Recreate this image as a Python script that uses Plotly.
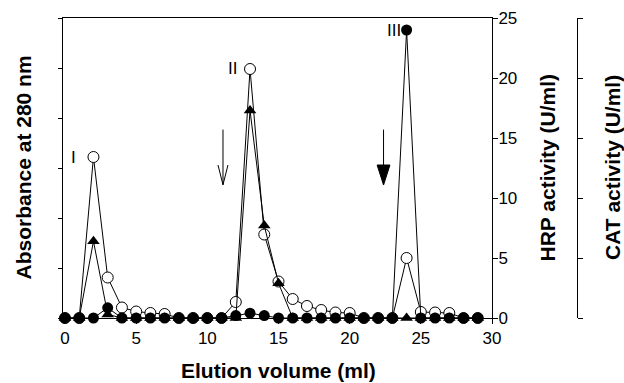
import plotly.graph_objects as go

# ---- data ----
elution_ml = list(range(0, 30))
absorbance_280 = [0, 0, 0.322, 0.081, 0.021, 0.013, 0.010, 0.008, 0, 0,
                  0, 0, 0.032, 0.498, 0.167, 0.073, 0.038, 0.024, 0.016, 0.011,
                  0.010, 0, 0, 0, 0.120, 0.012, 0.011, 0.010, 0, 0]
hrp_activity = [0, 0, 6.4, 0.3, 0, 0, 0, 0, 0, 0,
                0, 0, 0, 17.3, 7.7, 2.9, 0, 0, 0, 0,
                0, 0, 0, 0, 0, 0, 0, 0, 0, 0]
cat_activity = [0, 0, 0, 8.5, 0, 0, 0, 0, 0, 0,
                0, 0, 2, 4, 2, 0, 0, 0, 0, 0,
                0, 0, 0, 0, 240, 0, 0, 0, 0, 0]
x_ticks = [0, 5, 10, 15, 20, 25, 30]
hrp_ticks = [0, 5, 10, 15, 20, 25]
peak_labels = ["I", "II", "III"]
peak_label_x = [0.59, 11.78, 23.09]
peak_label_y_hrp = [13.4, 20.8, 24.0]
arrow_x = [11.1, 22.38]

FONT = "Liberation Sans, Arial, sans-serif"
W, H = 624, 383
L, R, T, B = 63, 44, 18, 65
paper_w = W - L - R
paper_h = H - T - B
x_dom_end = (492 - L) / paper_w
cat_pos = (577 - L) / paper_w

fig = go.Figure()
fig.add_trace(go.Scatter(
    x=elution_ml, y=absorbance_280, mode="lines+markers", yaxis="y",
    line=dict(color="black", width=1),
    marker=dict(symbol="circle", size=11, color="white", line=dict(color="black", width=1)),
    cliponaxis=False, showlegend=False))
fig.add_trace(go.Scatter(
    x=elution_ml, y=hrp_activity, mode="lines+markers", yaxis="y2",
    line=dict(color="black", width=1),
    marker=dict(symbol="triangle-up", size=11, color="black", line=dict(width=0)),
    cliponaxis=False, showlegend=False))
fig.add_trace(go.Scatter(
    x=elution_ml, y=cat_activity, mode="lines+markers", yaxis="y3",
    line=dict(color="black", width=1),
    marker=dict(symbol="circle", size=11, color="black", line=dict(width=0)),
    cliponaxis=False, showlegend=False))

axis_common = dict(showgrid=False, zeroline=False, showline=True, linecolor="black",
                   linewidth=1, ticks="outside", tickcolor="black", tickwidth=1)

fig.update_layout(
    width=W, height=H, margin=dict(l=L, r=R, t=T, b=B, autoexpand=False),
    plot_bgcolor="white", paper_bgcolor="white",
    font=dict(family=FONT, size=17, color="black"),
    xaxis=dict(domain=[0, x_dom_end], range=[-0.14, 30], tickvals=x_ticks,
               ticklen=5, mirror=True, **axis_common),
    yaxis=dict(range=[0, 0.6], dtick=0.1, ticklen=4, showticklabels=False, **axis_common),
    yaxis2=dict(range=[0, 25], tickvals=hrp_ticks, ticklen=5, overlaying="y", side="right",
                anchor="x", ticklabelstandoff=-3, **axis_common),
    yaxis3=dict(range=[0, 250], dtick=50, ticklen=5, overlaying="y", side="right",
                anchor="free", position=cat_pos, showticklabels=False, **axis_common),
)


def px_to_paper(px, py):
    return (px - L) / paper_w, (H - py - B) / paper_h


ann = []
for txt, xx, yy in zip(peak_labels, peak_label_x, peak_label_y_hrp):
    ann.append(dict(text=txt, x=xx, y=yy, xref="x", yref="y2", showarrow=False,
                    font=dict(size=17, family=FONT), xanchor="center", yanchor="middle"))

title_font = dict(size=21, family=FONT, color="black")
titles = [("<b>Absorbance at 280 nm</b>", 23, 167.5, -90),
          ("<b>Elution volume (ml)</b>", 278.5, 370, 0),
          ("<b>HRP activity (U/ml)</b>", 546.5, 168, -90),
          ("<b>CAT activity (U/ml)</b>", 612, 168, -90)]
for txt, px, py, ang in titles:
    xp, yp = px_to_paper(px, py)
    ann.append(dict(text=txt, x=xp, y=yp, xref="paper", yref="paper", showarrow=False,
                    textangle=ang, font=title_font, xanchor="center", yanchor="middle"))
fig.update_layout(annotations=ann)

# arrows (in x / HRP-axis data units)
shapes = []
ax_open, ax_fill = arrow_x
shapes.append(dict(type="line", xref="x", yref="y2", x0=ax_open, x1=ax_open, y0=15.7, y1=11.1,
                   line=dict(color="black", width=1)))
shapes.append(dict(type="path", xref="x", yref="y2",
                   path=f"M {ax_open-0.35} 12.75 L {ax_open} 11.1 L {ax_open+0.35} 12.75",
                   line=dict(color="black", width=1)))
shapes.append(dict(type="line", xref="x", yref="y2", x0=ax_fill, x1=ax_fill, y0=15.7, y1=12.7,
                   line=dict(color="black", width=1)))
shapes.append(dict(type="path", xref="x", yref="y2",
                   path=f"M {ax_fill-0.45} 12.75 L {ax_fill+0.45} 12.75 L {ax_fill} 11.08 Z",
                   fillcolor="black", line=dict(color="black", width=1)))
fig.update_layout(shapes=shapes)

fig.write_html("out.html", config={"displayModeBar": False},
               post_script="document.body.style.margin='0';")
